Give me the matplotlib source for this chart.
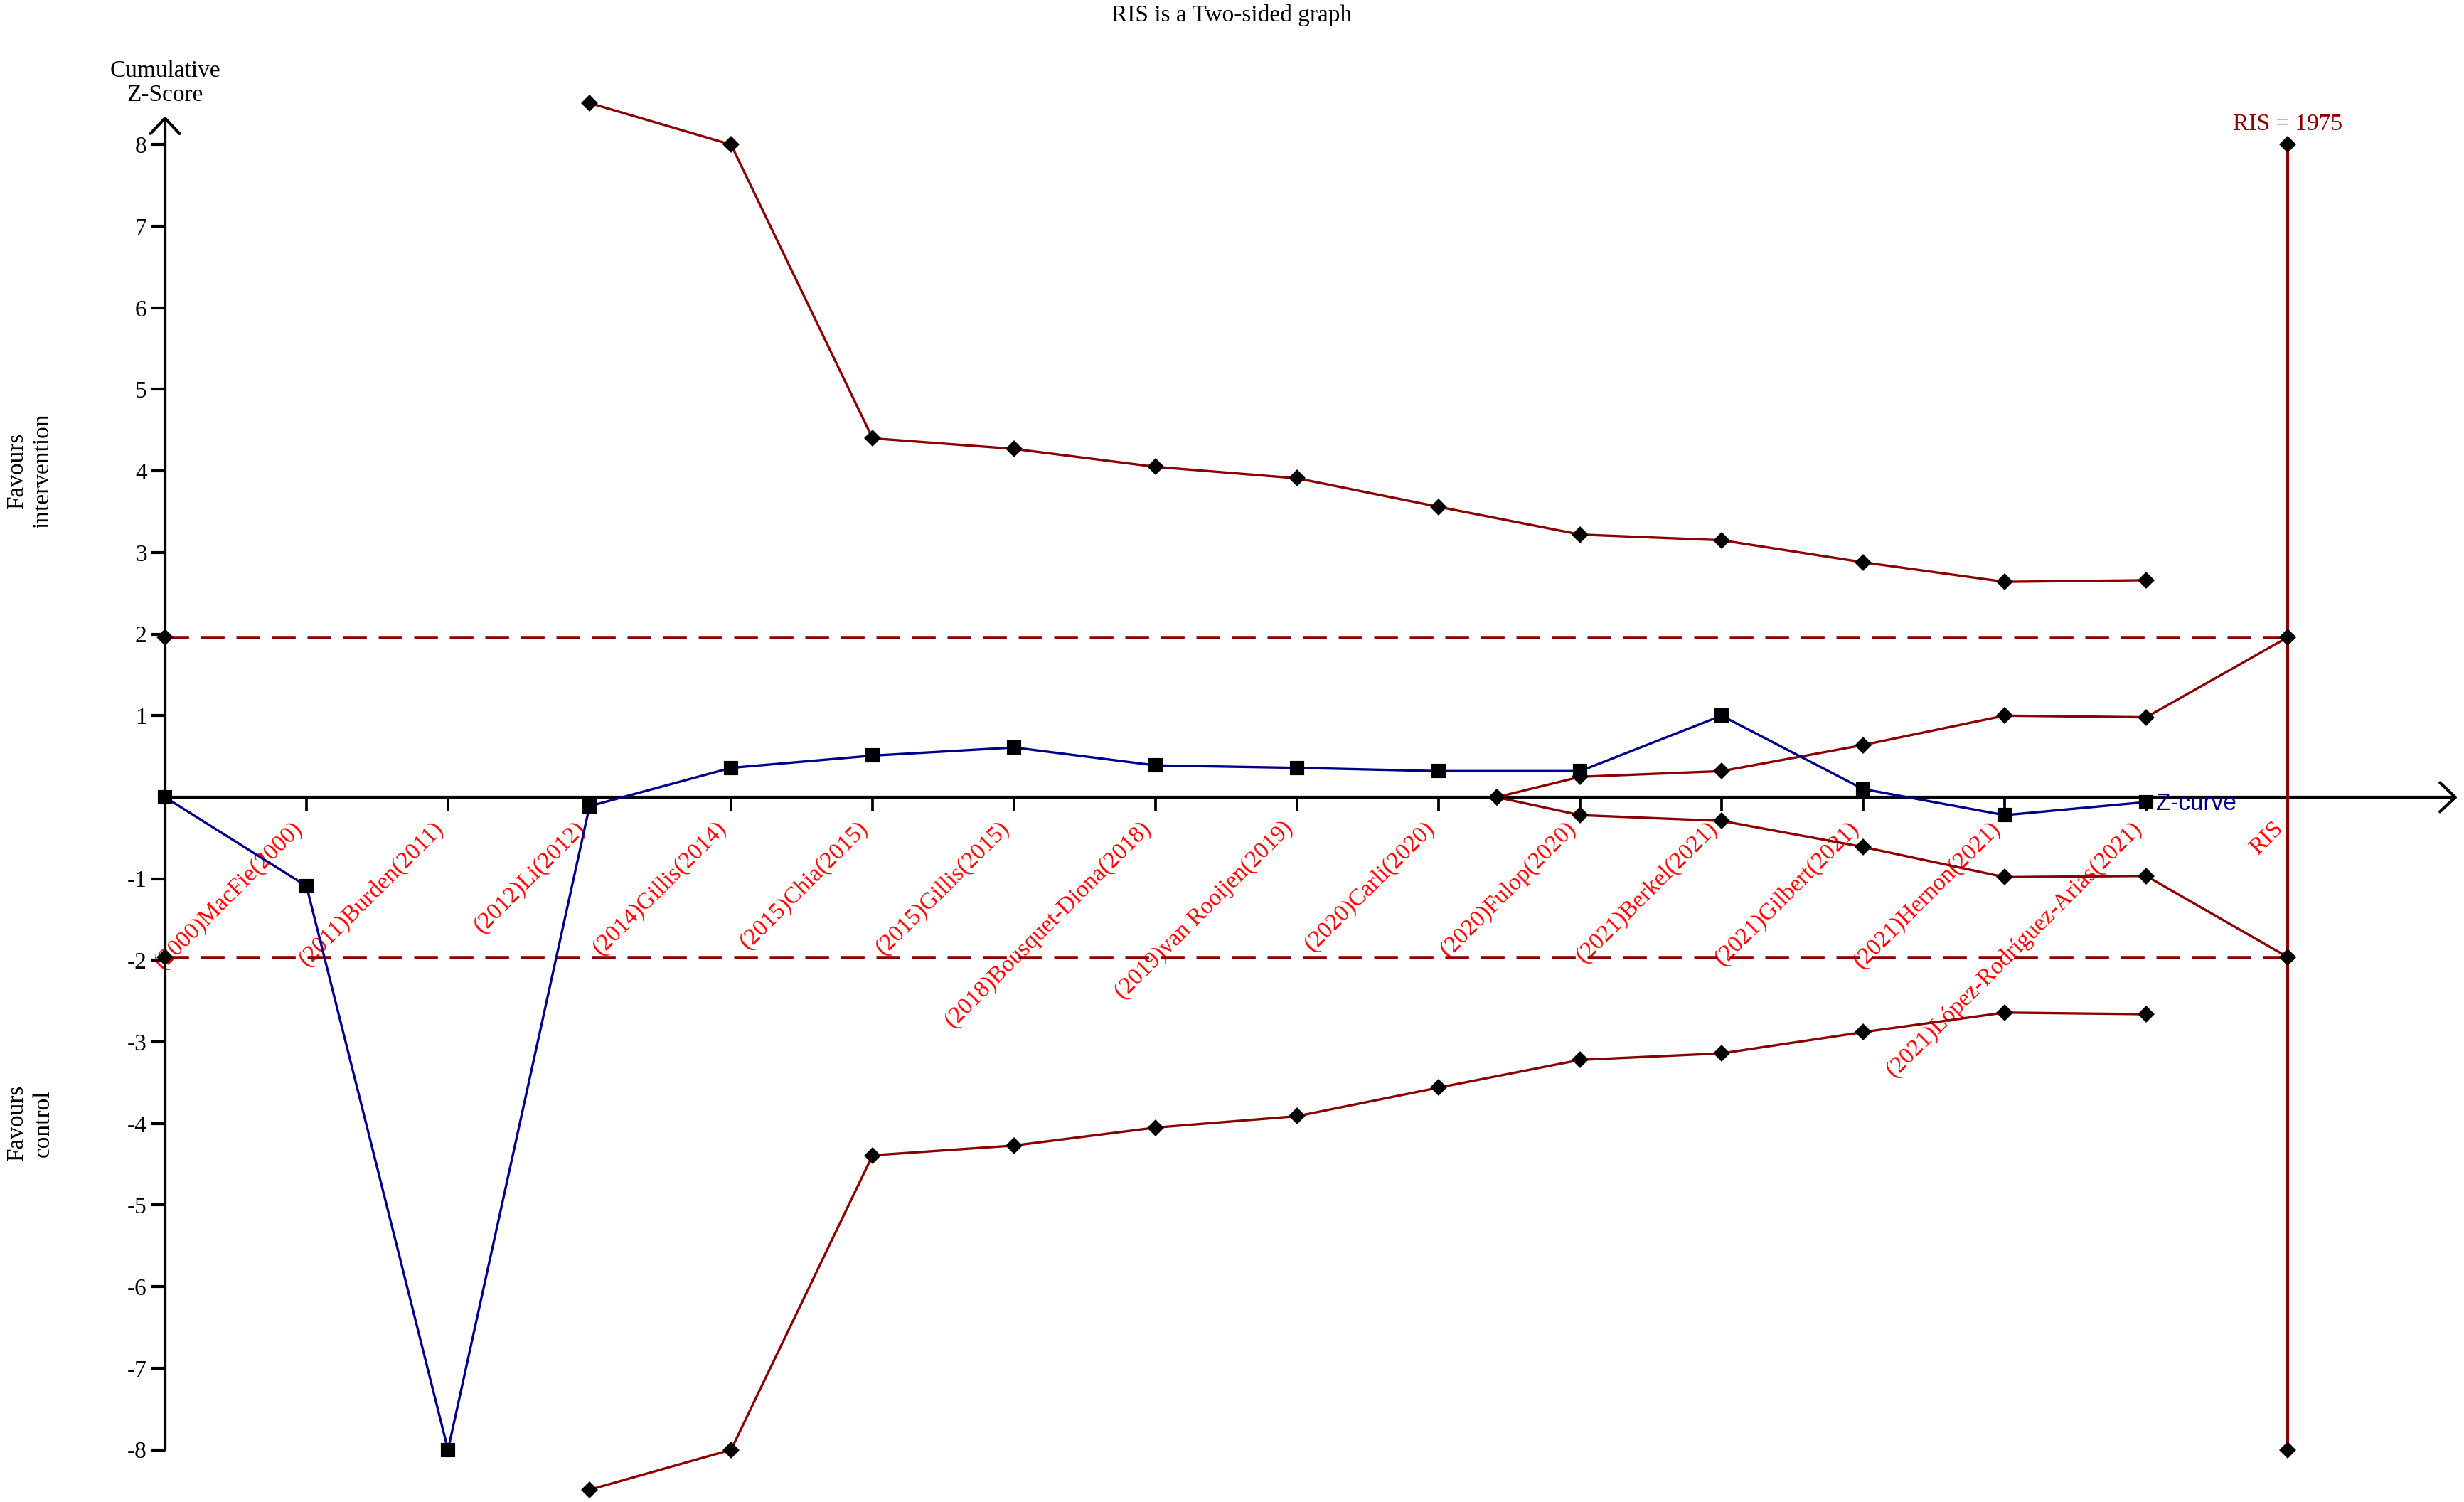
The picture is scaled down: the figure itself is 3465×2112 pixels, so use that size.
import matplotlib
matplotlib.use("Agg")
import matplotlib.pyplot as plt
from matplotlib.patches import ArrowStyle

# ---- data -------------------------------------------------------------
study_labels = [
    "(2000)MacFie(2000)", "(2011)Burden(2011)", "(2012)Li(2012)",
    "(2014)Gillis(2014)", "(2015)Chia(2015)", "(2015)Gillis(2015)",
    "(2018)Bousquet-Diona(2018)", "(2019)van Rooijen(2019)",
    "(2020)Carli(2020)", "(2020)Fulop(2020)", "(2021)Berkel(2021)",
    "(2021)Gilbert(2021)", "(2021)Hernon(2021)",
    "(2021)López-Rodríguez-Arias(2021)", "RIS",
]
label_pos = list(range(1, 16))

z_x = list(range(0, 15))
z_curve = [0.0, -1.09, -8.0, -0.11, 0.36, 0.51, 0.61, 0.39, 0.36, 0.32,
           0.32, 1.00, 0.10, -0.22, -0.06]

bound_x = list(range(3, 15))
upper_bound = [8.51, 8.00, 4.40, 4.27, 4.05, 3.91, 3.56, 3.22, 3.15, 2.88,
               2.64, 2.66]
lower_bound = [-8.49, -8.00, -4.39, -4.27, -4.05, -3.91, -3.56, -3.22,
               -3.14, -2.88, -2.64, -2.66]

futility_x = [9.41, 10, 11, 12, 13, 14, 15]
futility_upper = [0.0, 0.25, 0.32, 0.64, 1.00, 0.98, 1.96]
futility_lower = [0.0, -0.22, -0.29, -0.61, -0.98, -0.965, -1.96]

conventional = 1.96
ris_pos = 15
ris_value = 1975
ris_span = [-8, 8]
y_ticks = [-8, -7, -6, -5, -4, -3, -2, -1, 1, 2, 3, 4, 5, 6, 7, 8]

# ---- style ------------------------------------------------------------
plt.rcParams["font.family"] = ["Liberation Serif", "DejaVu Serif"]
plt.rcParams["axes.unicode_minus"] = False
plt.rcParams["lines.scale_dashes"] = False

DARKRED = "#8B0000"
NAVY = "#00008B"
FS = 8

fig = plt.figure(figsize=(11.55, 7.04), dpi=300)
ax = fig.add_axes([0, 0, 1, 1])
ax.set_xlim(-1.166, 16.246)
ax.set_ylim(-8.64, 9.773)
ax.patch.set_alpha(0)

for side in ["top", "right"]:
    ax.spines[side].set_visible(False)
ax.spines["left"].set_position(("data", 0))
ax.spines["bottom"].set_position(("data", 0))
ax.spines["left"].set_visible(False)
ax.spines["bottom"].set_visible(False)

ax.set_yticks(y_ticks)
ax.set_yticklabels([str(t) for t in y_ticks])
ax.tick_params(axis="y", direction="out", length=4.6, width=1.0,
               labelsize=FS, pad=1.5)
ax.set_xticks(label_pos)
ax.set_xticklabels(study_labels, rotation=45, ha="right", color="red",
                   fontsize=FS)
ax.tick_params(axis="x", direction="out", length=4.8, width=0.9, pad=2)

# axes drawn as open-headed arrows
arrow = ArrowStyle("->", head_length=5.2, head_width=4.9)
arrow_props = dict(arrowstyle=arrow, lw=1.0, color="black",
                   shrinkA=0, shrinkB=0, mutation_scale=1)
ax.annotate("", xy=(0, 8.35), xytext=(0, -8), arrowprops=arrow_props,
            zorder=2)
ax.annotate("", xy=(16.2, 0), xytext=(0, 0), arrowprops=arrow_props,
            zorder=2)

# conventional boundaries
for s in (1, -1):
    ax.plot([0, ris_pos], [s * conventional, s * conventional], color=DARKRED,
            lw=1.1, dashes=(8, 4), zorder=3)
    ax.plot([0, ris_pos], [s * conventional, s * conventional], ls="none",
            marker="D", ms=2.9, color="black", zorder=6, clip_on=False)

# required information size
ax.plot([ris_pos, ris_pos], ris_span, color=DARKRED, lw=1.0, marker="D",
        ms=2.9, mfc="black", mec="black", zorder=4, clip_on=False)
ax.text(ris_pos, 8.12, f"RIS = {ris_value}", color=DARKRED, fontsize=FS,
        ha="center", va="bottom")

# monitoring boundaries
diam = dict(marker="D", ms=2.9, mfc="black", mec="black", clip_on=False)
ax.plot(bound_x, upper_bound, color=DARKRED, lw=0.8, zorder=4, **diam)
ax.plot(bound_x, lower_bound, color=DARKRED, lw=0.8, zorder=4, **diam)
ax.plot(futility_x, futility_upper, color=DARKRED, lw=0.8, zorder=4, **diam)
ax.plot(futility_x, futility_lower, color=DARKRED, lw=0.8, zorder=4, **diam)

# cumulative Z-curve
ax.plot(z_x, z_curve, color=NAVY, lw=0.8, marker="s", ms=3.8, mfc="black",
        mec="black", zorder=7, clip_on=False)
ax.text(z_x[-1] + 0.07, z_curve[-1] - 0.02, "Z-curve", color=NAVY,
        fontsize=FS, family=["Liberation Sans", "DejaVu Sans"],
        ha="left", va="center")

# annotations
ax.text(0, 8.47, "Cumulative\nZ-Score", fontsize=FS, ha="center",
        va="bottom", linespacing=1.15)
ax.text(-0.955, 4.0, "Favours\nintervention", fontsize=FS, rotation=90,
        ha="center", va="center", linespacing=1.25)
ax.text(-0.955, -4.0, "Favours\ncontrol", fontsize=FS, rotation=90,
        ha="center", va="center", linespacing=1.25)
fig.text(0.5, 1 - 30 / 2112, "RIS is a Two-sided graph", fontsize=FS,
         ha="center", va="baseline")

fig.savefig("out.png", dpi=300)
